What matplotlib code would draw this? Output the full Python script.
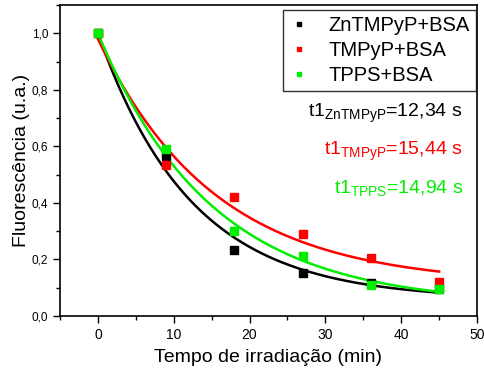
import numpy as np
import matplotlib
matplotlib.use("Agg")
import matplotlib.pyplot as plt
from matplotlib.ticker import MultipleLocator, FuncFormatter

plt.rcParams["font.family"] = ["Liberation Sans", "DejaVu Sans"]
plt.rcParams["mathtext.fontset"] = "custom"
plt.rcParams["mathtext.rm"] = "Liberation Sans"
plt.rcParams["mathtext.it"] = "Liberation Sans"

# measured points (time in min, normalised fluorescence)
tempo = [0, 9, 18, 27, 36, 45]
zntmpyp = [1.0, 0.565, 0.233, 0.153, 0.118, 0.095]
tmpyp = [1.0, 0.535, 0.422, 0.290, 0.205, 0.120]
tpps = [1.0, 0.590, 0.300, 0.213, 0.108, 0.095]

# exponential fit parameters: y0, A, t1
fit_zn = (0.058, 0.942, 12.34)
fit_tmpyp = (0.110, 0.870, 15.44)
fit_tpps = (0.038, 0.962, 14.94)

labels = ["ZnTMPyP+BSA", "TMPyP+BSA", "TPPS+BSA"]
colors = ["black", "#ff0000", "#00ee00"]

fig = plt.figure(figsize=(4.85, 3.72), dpi=100)
ax = fig.add_axes([60 / 485, 1 - 316 / 372, 417 / 485, 311 / 372])

xf = np.linspace(0, 45, 200)
series = [(zntmpyp, fit_zn), (tmpyp, fit_tmpyp), (tpps, fit_tpps)]
for (ys, (y0, a, t1)), lab, c in zip(series, labels, colors):
    ax.plot(xf, y0 + a * np.exp(-xf / t1), color=c, lw=1.8, zorder=2)
for (ys, _), lab, c in zip(series, labels, colors):
    ax.plot(tempo, ys, "s", color=c, ms=5.5, ls="none", label=lab, zorder=3)

ax.set_xlim(-5, 50)
ax.set_ylim(0, 1.1)
ax.xaxis.set_major_locator(MultipleLocator(10))
ax.xaxis.set_minor_locator(MultipleLocator(5))
ax.yaxis.set_major_locator(MultipleLocator(0.2))
ax.yaxis.set_minor_locator(MultipleLocator(0.1))
ax.yaxis.set_major_formatter(FuncFormatter(lambda v, p: f"{v:.1f}".replace(".", ",")))
ax.tick_params(which="both", direction="out", top=False, right=False, labelsize=8.5, width=1)
ax.tick_params(axis="x", labelsize=10)
ax.tick_params(which="major", length=5)
ax.tick_params(which="minor", length=3)
for s in ax.spines.values():
    s.set_linewidth(1.2)

ax.set_xlabel("Tempo de irradiação (min)", fontsize=14, labelpad=5)
ax.set_ylabel("Fluorescência (u.a.)", fontsize=14, labelpad=1.5)

leg = ax.legend(loc="upper right", bbox_to_anchor=(0.998, 0.984), fontsize=14.5,
                markerscale=0.6, handlelength=1.0, handletextpad=1.0, borderaxespad=0,
                frameon=True, fancybox=False, labelspacing=0.3, borderpad=0.3)
leg.get_frame().set_edgecolor("black")
leg.get_frame().set_linewidth(1)

ax.text(0.966, 0.640, r"t1$_{\mathrm{ZnTMPyP}}$=12,34 s", transform=ax.transAxes,
        ha="right", va="baseline", fontsize=14, color=colors[0])
ax.text(0.966, 0.518, r"t1$_{\mathrm{TMPyP}}$=15,44 s", transform=ax.transAxes,
        ha="right", va="baseline", fontsize=14, color=colors[1])
ax.text(0.966, 0.395, r"t1$_{\mathrm{TPPS}}$=14,94 s", transform=ax.transAxes,
        ha="right", va="baseline", fontsize=14, color=colors[2])

fig.savefig("out.png", dpi=100)
